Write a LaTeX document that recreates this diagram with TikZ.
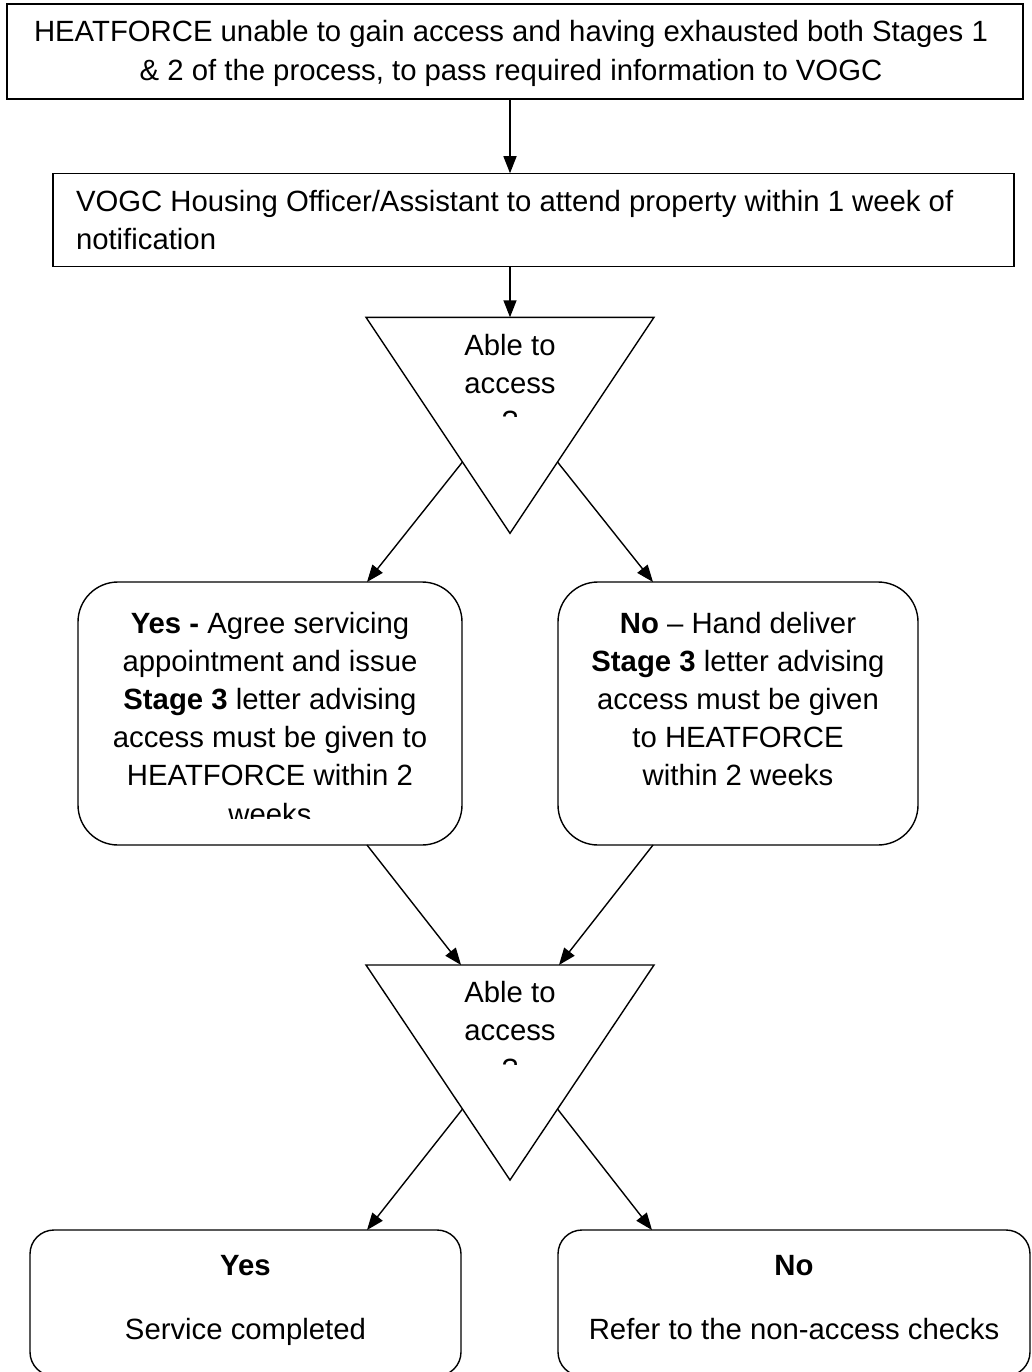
\documentclass[tikz,border=0pt]{standalone}
\usepackage{fontspec}
\setmainfont{Liberation Sans}
\usetikzlibrary{arrows.meta,calc}
\begin{document}
\begin{tikzpicture}[x=1pt,y=-1pt,
  line/.style={line width=1.4pt},
  box/.style={draw,line width=1.4pt,inner sep=0pt,outer sep=0pt},
  rbox/.style={box,rounded corners=#1},
  txt/.style={inner sep=0pt,outer sep=0pt,font=\fontsize{29.3}{38.2}\selectfont,align=center},
  arr/.style={line width=1.4pt,-{Triangle[length=17pt,width=13pt]}},
]
\useasboundingbox (0,0) rectangle (1031,1372);
\clip (0,0) rectangle (1031,1372);

% boxes (text nodes are anchored at the baseline of their last line)
\node[box,minimum width=1016pt,minimum height=95pt] (top) at (515,51.5) {};
\node[txt,anchor=base] (toptxt) at (511,80.2) {HEATFORCE unable to gain access and having exhausted both Stages 1\\ \& 2 of the process, to pass required information to VOGC};

\node[box,minimum width=961pt,minimum height=93.5pt] (vogc) at (533.5,220) {};
\node[txt,align=left,anchor=base west] (vogctxt) at (76,249.9) {VOGC Housing Officer/Assistant to attend property within 1 week of\\notification};

\node[rbox=40pt,minimum width=384pt,minimum height=263pt] (yes) at (270,713.5) {};
\node[rbox=40pt,minimum width=360pt,minimum height=263pt] (no) at (738,713.5) {};

\begin{scope}
\clip (78,582) rectangle (462,818);
\node[txt,anchor=base] (yestxt) at (270,824) {\textbf{Yes -} Agree servicing\\appointment and issue\\\textbf{Stage 3} letter advising\\access must be given to\\HEATFORCE within 2\\weeks};
\end{scope}
\node[txt,anchor=base] (notxt) at (738,785.8) {\textbf{No} -- Hand deliver\\\textbf{Stage 3} letter advising\\access must be given\\to HEATFORCE\\within 2 weeks};

\node[rbox=24pt,minimum width=431pt,minimum height=146pt] (yesend) at (245.5,1303) {};
\node[rbox=24pt,minimum width=472pt,minimum height=146pt] (noend) at (794,1303) {};
\node[txt,anchor=base] (yesendh) at (245.5,1275) {\textbf{Yes}};
\node[txt,anchor=base] (yesendt) at (245.5,1339) {Service completed};
\node[txt,anchor=base] (noendh) at (794,1275) {\textbf{No}};
\node[txt,anchor=base] (noendt) at (794,1339) {Refer to the non-access checks};

% triangles
\coordinate (t1L) at (366,317.3);
\coordinate (t1R) at (654,317.3);
\coordinate (t1B) at (510,533.3);
\draw[line,line join=miter] (t1L) -- (t1R) -- (t1B) -- cycle;
\begin{scope}
\clip (366,317.3) rectangle (654,416.7);
\node[txt,anchor=base] (q1) at (510,431.4) {Able to\\access\\?};
\end{scope}

\coordinate (t2L) at (366,965);
\coordinate (t2R) at (654,965);
\coordinate (t2B) at (510,1180);
\draw[line,line join=miter] (t2L) -- (t2R) -- (t2B) -- cycle;
\begin{scope}
\clip (366,965) rectangle (654,1064.4);
\node[txt,anchor=base] (q2) at (510,1079.1) {Able to\\access\\?};
\end{scope}

% connectors
\draw[arr] (top.south -| t1B) -- (vogc.north -| t1B);
\draw[arr] (vogc.south -| t1B) -- (t1B |- t1L);

\coordinate (t1l) at ($(t1L)!0.67!(t1B)$);
\coordinate (t1r) at ($(t1R)!0.67!(t1B)$);
\coordinate (yesin) at ([xshift=-95pt]yes.north east);
\coordinate (noin) at ([xshift=95pt]no.north west);
\draw[arr] (t1l) -- (yesin);
\draw[arr] (t1r) -- (noin);

\coordinate (yesout) at ([xshift=-95pt]yes.south east);
\coordinate (noout) at ([xshift=95pt]no.south west);
\coordinate (t2in1) at ($(t2L)!0.33!(t2R)$);
\coordinate (t2in2) at ($(t2L)!0.67!(t2R)$);
\draw[arr] (yesout) -- (t2in1);
\draw[arr] (noout) -- (t2in2);

\coordinate (t2l) at ($(t2L)!0.67!(t2B)$);
\coordinate (t2r) at ($(t2R)!0.67!(t2B)$);
\draw[arr] (t2l) -- ([xshift=-94pt]yesend.north east);
\draw[arr] (t2r) -- ([xshift=94pt]noend.north west);
\end{tikzpicture}
\end{document}
